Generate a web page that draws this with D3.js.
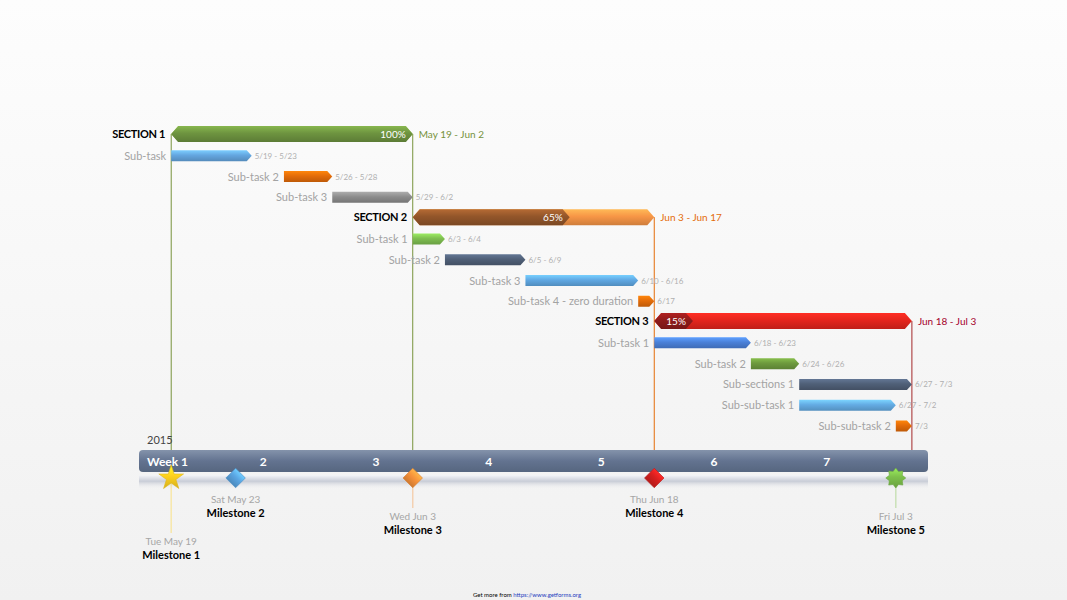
<!DOCTYPE html>
<html>
<head>
<meta charset="utf-8">
<script src="https://cdn.jsdelivr.net/npm/d3@7"></script>
<style>
  html, body { margin: 0; padding: 0; }
  body { width: 1067px; height: 600px; overflow: hidden; font-family: Lato, "Open Sans", sans-serif; }
</style>
</head>
<body>
<div id="chart"></div>
<script>
// ---- data ----
const sectionNames = ["SECTION 1", "SECTION 2", "SECTION 3"];
const sectionStarts = ["2015-05-19", "2015-06-03", "2015-06-18"];
const sectionEnds = ["2015-06-02", "2015-06-17", "2015-07-03"];
const sectionProgress = [1.00, 0.65, 0.15];

const taskNames = ["Sub-task", "Sub-task 2", "Sub-task 3",
    "Sub-task 1", "Sub-task 2", "Sub-task 3", "Sub-task 4 - zero duration",
    "Sub-task 1", "Sub-task 2", "Sub-sections 1", "Sub-sub-task 1", "Sub-sub-task 2"];
const taskStarts = ["2015-05-19", "2015-05-26", "2015-05-29",
    "2015-06-03", "2015-06-05", "2015-06-10", "2015-06-17",
    "2015-06-18", "2015-06-24", "2015-06-27", "2015-06-27", "2015-07-03"];
const taskEnds = ["2015-05-23", "2015-05-28", "2015-06-02",
    "2015-06-04", "2015-06-09", "2015-06-16", "2015-06-17",
    "2015-06-23", "2015-06-26", "2015-07-03", "2015-07-02", "2015-07-03"];
const taskSection = [0, 0, 0, 1, 1, 1, 1, 2, 2, 2, 2, 2];

const milestoneNames = ["Milestone 1", "Milestone 2", "Milestone 3", "Milestone 4", "Milestone 5"];
const milestoneDates = ["2015-05-19", "2015-05-23", "2015-06-03", "2015-06-18", "2015-07-03"];

const yearLabel = "2015";
const weekLabels = ["Week 1", "2", "3", "4", "5", "6", "7"];
const timelineStart = "2015-05-17";
const timelineEnd = "2015-07-05";

// ---- styles ----
const sectionDone = ["#6e9440", "#93562a", "#8e1b1b"];
const sectionRest = ["#9bbb59", "#f79646", "#e4251d"];
const sectionLine = ["#77933c", "#e46c0a", "#a3282a"];
const sectionText = ["#76923c", "#e46c0a", "#a5002a"];
const taskColors = ["#64a6e0", "#e36c09", "#8c8c8c",
    "#7fbf50", "#506078", "#60a8e3", "#e36c09",
    "#4a80d8", "#6e9a3e", "#506078", "#64ace4", "#e36c09"];
const milestoneShapes = ["star", "diamond", "diamond", "diamond", "burst"];
const milestoneColors = ["#ffd21f", "#5aa5e2", "#f7923a", "#d7201f", "#7dc04b"];
const milestoneLevel = [2, 0, 1, 0, 1];

const width = 1067, height = 600;
const parse = d3.timeParse("%Y-%m-%d");
const dayAfter = d => d3.timeDay.offset(parse(d), 1);

const svg = d3.select("#chart").append("svg")
    .attr("width", width)
    .attr("height", height);

const defs = svg.append("defs");

const bg = defs.append("linearGradient").attr("id", "bg")
    .attr("x1", 0).attr("y1", 0).attr("x2", 0).attr("y2", 1);
bg.append("stop").attr("offset", "0%").attr("stop-color", "#fdfdfd");
bg.append("stop").attr("offset", "100%").attr("stop-color", "#f1f1f1");

let gradCount = 0;
function grad(color) {
    const id = "g" + (gradCount++);
    const c = d3.color(color);
    const g = defs.append("linearGradient").attr("id", id)
        .attr("x1", 0).attr("y1", 0).attr("x2", 0).attr("y2", 1);
    g.append("stop").attr("offset", "0%").attr("stop-color", c.brighter(0.6).formatHex());
    g.append("stop").attr("offset", "45%").attr("stop-color", c.formatHex());
    g.append("stop").attr("offset", "100%").attr("stop-color", c.darker(0.5).formatHex());
    return "url(#" + id + ")";
}

svg.append("rect")
    .attr("width", width).attr("height", height)
    .attr("fill", "url(#bg)");

// ---- scales ----
const x = d3.scaleTime()
    .domain([parse(timelineStart), parse(timelineEnd)])
    .range([139, 928]);

// each section occupies one row, followed by its tasks
const rows = [];
sectionNames.forEach((s, i) => {
    rows.push({type: "section", index: i});
    taskSection.forEach((ts, j) => { if (ts === i) rows.push({type: "task", index: j}); });
});

const y = d3.scalePoint()
    .domain(d3.range(rows.length))
    .range([134, 425]);

const sectionRow = sectionNames.map((s, i) => rows.findIndex(r => r.type === "section" && r.index === i));
const taskRow = taskNames.map((t, j) => rows.findIndex(r => r.type === "task" && r.index === j));

const timelineTop = 450, timelineH = 22;

// ---- vertical guide lines ----
const guides = svg.append("g");
sectionNames.forEach((s, i) => {
    const cy = y(sectionRow[i]);
    [parse(sectionStarts[i]), dayAfter(sectionEnds[i])].forEach((d, k) => {
        if (i > 0 && k === 0) return; // previous section's line already drawn
        guides.append("line")
            .attr("x1", x(d)).attr("x2", x(d))
            .attr("y1", cy).attr("y2", timelineTop)
            .attr("stroke", sectionLine[i])
            .attr("stroke-width", 1);
    });
});

// ---- section bars ----
const arrowBoth = (x0, x1, cy, h, tip) => [
    [x0, cy], [x0 + tip, cy - h / 2], [x1 - tip, cy - h / 2],
    [x1, cy], [x1 - tip, cy + h / 2], [x0 + tip, cy + h / 2]];
const polyPath = pts => "M" + pts.map(p => p.join(",")).join("L") + "Z";

const sectionG = svg.append("g");
sectionNames.forEach((s, i) => {
    const cy = y(sectionRow[i]);
    const x0 = x(parse(sectionStarts[i]));
    const x1 = x(dayAfter(sectionEnds[i]));
    const xp = x0 + (x1 - x0) * sectionProgress[i];
    const bh = 16, tip = 7;

    sectionG.append("path")
        .attr("d", polyPath(arrowBoth(x0, x1, cy, bh, tip)))
        .attr("fill", grad(sectionRest[i]));
    sectionG.append("path")
        .attr("d", polyPath(arrowBoth(x0, xp, cy, bh, tip)))
        .attr("fill", grad(sectionDone[i]));

    sectionG.append("text")
        .attr("x", xp - 7).attr("y", cy + 3.5)
        .attr("text-anchor", "end")
        .attr("fill", "#fff")
        .style("font-size", "10px")
        .text(d3.format(".0%")(sectionProgress[i]));

    sectionG.append("text")
        .attr("x", x0 - 6).attr("y", cy + 4)
        .attr("text-anchor", "end")
        .attr("fill", "#000")
        .style("font-size", "11px")
        .style("font-weight", "bold")
        .style("letter-spacing", "-0.3px")
        .text(s);

    const fmt = d3.timeFormat("%b %-d");
    sectionG.append("text")
        .attr("x", x1 + 6).attr("y", cy + 4)
        .attr("fill", sectionText[i])
        .style("font-size", "10px")
        .text(fmt(parse(sectionStarts[i])) + " - " + fmt(parse(sectionEnds[i])));
});

// ---- task bars ----
const taskG = svg.append("g");
const shortFmt = d3.timeFormat("%-m/%-d");
taskNames.forEach((t, j) => {
    const cy = y(taskRow[j]) + 1;
    const x0 = x(parse(taskStarts[j]));
    const x1 = x(dayAfter(taskEnds[j]));
    const bh = 11, tip = 5;
    const pts = [[x0, cy - bh / 2], [x1 - tip, cy - bh / 2], [x1, cy],
                 [x1 - tip, cy + bh / 2], [x0, cy + bh / 2]];
    taskG.append("path")
        .attr("d", polyPath(pts))
        .attr("fill", grad(taskColors[j]));

    taskG.append("text")
        .attr("x", x0 - 5).attr("y", cy + 4)
        .attr("text-anchor", "end")
        .attr("fill", "#a3a3a3")
        .style("font-size", "11px")
        .text(t);

    const label = taskStarts[j] === taskEnds[j]
        ? shortFmt(parse(taskStarts[j]))
        : shortFmt(parse(taskStarts[j])) + " - " + shortFmt(parse(taskEnds[j]));
    taskG.append("text")
        .attr("x", x1 + 3).attr("y", cy + 3)
        .attr("fill", "#b0b0b0")
        .style("font-size", "8px")
        .text(label);
});

// ---- timeline ----
const tlG = svg.append("g");
const [tx0, tx1] = x.range();

const tlGrad = defs.append("linearGradient").attr("id", "tl")
    .attr("x1", 0).attr("y1", 0).attr("x2", 0).attr("y2", 1);
tlGrad.append("stop").attr("offset", "0%").attr("stop-color", "#8493ab");
tlGrad.append("stop").attr("offset", "50%").attr("stop-color", "#637390");
tlGrad.append("stop").attr("offset", "100%").attr("stop-color", "#56667f");

const shGrad = defs.append("linearGradient").attr("id", "sh")
    .attr("x1", 0).attr("y1", 0).attr("x2", 0).attr("y2", 1);
shGrad.append("stop").attr("offset", "0%").attr("stop-color", "#f4f5f8");
shGrad.append("stop").attr("offset", "45%").attr("stop-color", "#c9cdd7");
shGrad.append("stop").attr("offset", "100%").attr("stop-color", "#f1f1f1").attr("stop-opacity", 0);

tlG.append("rect")
    .attr("x", tx0).attr("y", timelineTop + timelineH + 3)
    .attr("width", tx1 - tx0).attr("height", 14)
    .attr("fill", "url(#sh)");

tlG.append("rect")
    .attr("x", tx0).attr("y", timelineTop)
    .attr("width", tx1 - tx0).attr("height", timelineH)
    .attr("rx", 4)
    .attr("fill", "url(#tl)");

const weeks = d3.timeWeek.range(...x.domain());
tlG.selectAll("text.week")
    .data(weeks)
    .enter().append("text")
    .attr("class", "week")
    .attr("x", d => x(d) + 8)
    .attr("y", timelineTop + 16)
    .attr("fill", "#fff")
    .style("font-size", "12px")
    .style("font-weight", "bold")
    .text((d, i) => weekLabels[i]);

tlG.append("text")
    .attr("x", tx0 + 8).attr("y", timelineTop - 6)
    .attr("fill", "#444")
    .style("font-size", "11px")
    .text(yearLabel);

// ---- milestones ----
const msG = svg.append("g");
const my = timelineTop + timelineH + 6;
const levelDateY = [503, 520, 545];
const msFmt = d3.timeFormat("%a %b %-d");

const burstPath = () => {
    const pts = d3.range(16).map(k => [k * Math.PI / 8, k % 2 ? 7 : 10]);
    return d3.lineRadial().curve(d3.curveLinearClosed)(pts);
};

milestoneNames.forEach((m, i) => {
    const mx = x(parse(milestoneDates[i]));
    const dy = levelDateY[milestoneLevel[i]];
    const c = d3.color(milestoneColors[i]);

    if (milestoneLevel[i] > 0) {
        msG.append("line")
            .attr("x1", mx).attr("x2", mx)
            .attr("y1", my).attr("y2", dy - 12)
            .attr("stroke", c.copy({opacity: 0.35}).formatRgb())
            .attr("stroke-width", 1.5);
    }

    let path;
    if (milestoneShapes[i] === "star") {
        path = d3.symbol().type(d3.symbolStar).size(190)();
    } else if (milestoneShapes[i] === "diamond") {
        path = d3.symbol().type(d3.symbolSquare).size(190)();
    } else {
        path = burstPath();
    }
    msG.append("path")
        .attr("d", path)
        .attr("transform", "translate(" + mx + "," + my + ")" +
            (milestoneShapes[i] === "diamond" ? " rotate(45)" : ""))
        .attr("fill", grad(milestoneColors[i]))
        .attr("stroke", c.darker(0.4).formatHex())
        .attr("stroke-width", 0.6);

    msG.append("text")
        .attr("x", mx).attr("y", dy)
        .attr("text-anchor", "middle")
        .attr("fill", "#a6a6a6")
        .style("font-size", "10px")
        .text(msFmt(parse(milestoneDates[i])));

    msG.append("text")
        .attr("x", mx).attr("y", dy + 14)
        .attr("text-anchor", "middle")
        .attr("fill", "#000")
        .style("font-size", "11px")
        .style("font-weight", "bold")
        .text(m);
});

// ---- footer ----
const foot = svg.append("text")
    .attr("x", 527).attr("y", 597)
    .attr("text-anchor", "middle")
    .style("font-size", "6px");
foot.append("tspan").attr("fill", "#000").text("Get more from ");
foot.append("tspan").attr("fill", "#1f3fbf").text("https://www.getforms.org");
</script>
</body>
</html>
